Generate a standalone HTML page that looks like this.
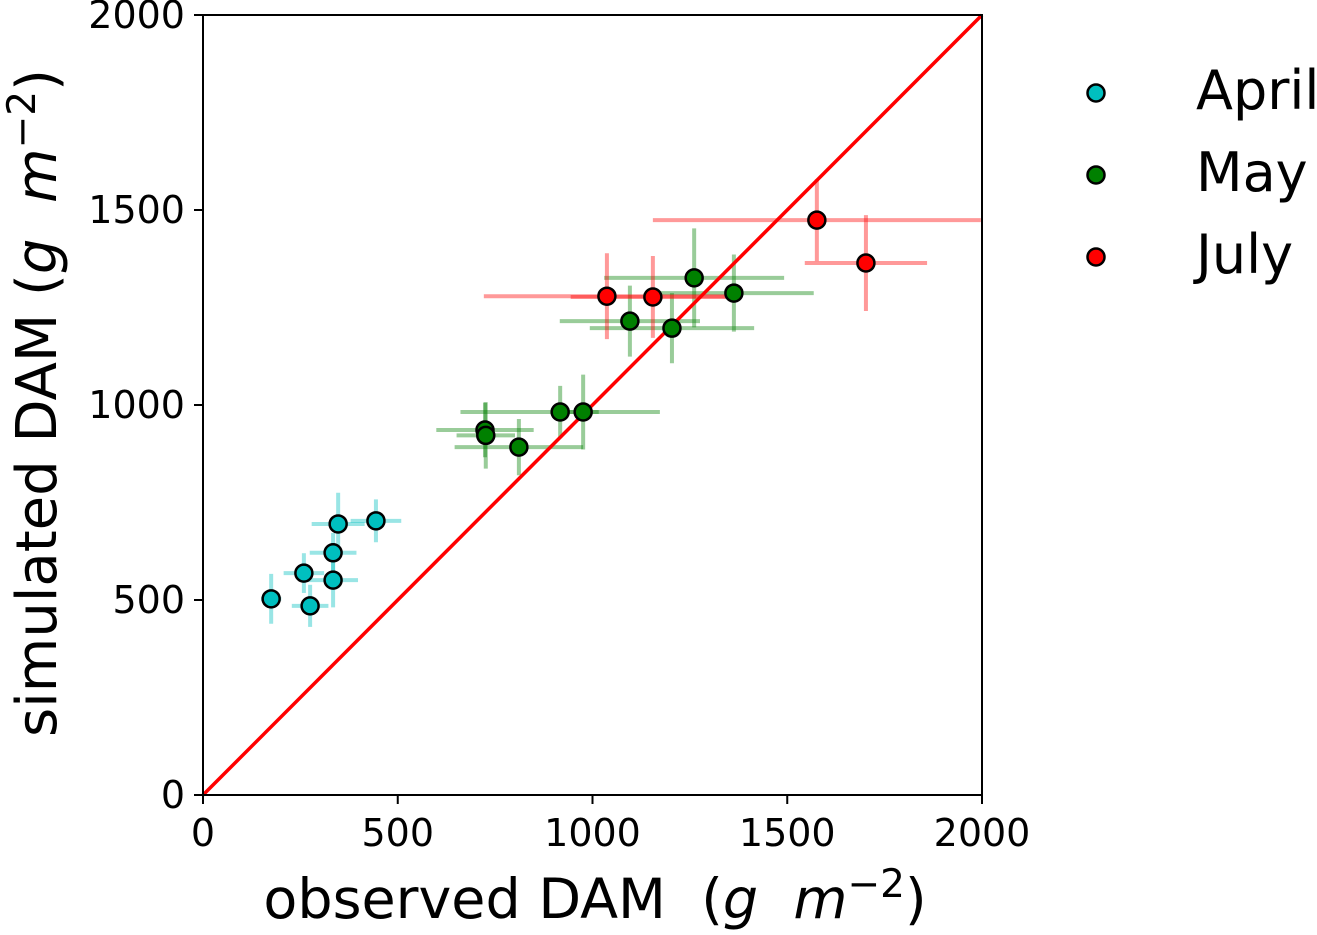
<!DOCTYPE html>
<html><head><meta charset="utf-8"><style>
body{margin:0;background:#fff;}
svg text{font-family:"DejaVu Sans","Liberation Sans",sans-serif;fill:#000;white-space:pre;}
</style></head><body>
<svg id="chart" width="1317" height="930" xmlns="http://www.w3.org/2000/svg"></svg>
<script>
const groups = ["April","May","July"];
const colors = ["#00bfbf","#008000","#ff0000"];
const aprX = [175,275,259,334,334,347,444];
const aprY = [503,485,569,621,551,695,703];
const aprXe = [26,47,52,60,64,68,65];
const aprYe = [64,54,51,51,70,80,55];
const mayX = [724,726,811,917,976,1261,1363,1096,1204];
const mayY = [936,922,892,982,982,1326,1287,1215,1197];
const mayXe = [125,75,165,256,40,231,205,180,211];
const mayYe = [70,85,72,67,96,127,99,91,90];
const julX = [1037,1155,1576,1702];
const julY = [1279,1277,1474,1364];
const julXe = [316,211,421,157];
const julYe = [110,105,105,123];
const ticks = [0,500,1000,1500,2000];

const svg=document.getElementById('chart');
const NS='http://www.w3.org/2000/svg';
const X0=203,X1=982,Y0=795,Y1=15;
const sx=v=>X0+(v/2000)*(X1-X0);
const sy=v=>Y0-(v/2000)*(Y0-Y1);
function mk(tag,attrs,parent){const e=document.createElementNS(NS,tag);for(const k in attrs)e.setAttribute(k,attrs[k]);(parent||svg).appendChild(e);return e;}

const plot=mk('g',{});


const series=[[aprX,aprY,aprXe,aprYe],[mayX,mayY,mayXe,mayYe],[julX,julY,julXe,julYe]];
series.forEach((s,gi)=>{
  const g=mk('g',{},plot);
  
  
  s[0].forEach((x,i)=>{
    const y=s[1][i];
    const h=mk('line',{x1:sx(x-s[2][i]),x2:sx(x+s[2][i]),y1:sy(y),y2:sy(y),stroke:colors[gi],'stroke-width':4,'stroke-opacity':0.4},g);
    
    
    const v=mk('line',{x1:sx(x),x2:sx(x),y1:sy(y-s[3][i]),y2:sy(y+s[3][i]),stroke:colors[gi],'stroke-width':4,'stroke-opacity':0.4},g);
    
    
  });
});
const ref=mk('line',{x1:sx(0),y1:sy(0),x2:sx(2000),y2:sy(2000),stroke:'#ff0000','stroke-width':3.5});


series.forEach((s,gi)=>{
  s[0].forEach((x,i)=>{
    const c=mk('circle',{cx:sx(x),cy:sy(s[1][i]),r:8.5,fill:colors[gi],stroke:'#000','stroke-width':2.5});
    
    
  });
});
const frame=mk('rect',{x:X0,y:Y1,width:X1-X0,height:Y0-Y1,fill:'none',stroke:'#000','stroke-width':2});


ticks.forEach(t=>{
  mk('line',{x1:sx(t),x2:sx(t),y1:Y0,y2:Y0+9,stroke:'#000','stroke-width':2});
  const tx=mk('text',{x:sx(t),y:846,'font-size':38,'text-anchor':'middle'});tx.textContent=t;
  
  
  mk('line',{x1:X0-9,x2:X0,y1:sy(t),y2:sy(t),stroke:'#000','stroke-width':2});
  const ty=mk('text',{x:185,y:sy(t)+13,'font-size':38,'text-anchor':'end'});ty.textContent=t;
  
  
});
const xl=mk('text',{x:595,y:918,'font-size':55.5,'text-anchor':'middle'});
xl.innerHTML='observed DAM  (<tspan font-style="italic">g  m</tspan><tspan dy="-21" font-size="39">−2</tspan><tspan dy="21">)</tspan>';


const yl=mk('text',{x:0,y:0,'font-size':56,'text-anchor':'middle',transform:'translate(56,403) rotate(-90)'});
yl.innerHTML='simulated DAM (<tspan font-style="italic">g  m</tspan><tspan dy="-21" font-size="39">−2</tspan><tspan dy="21">)</tspan>';


groups.forEach((g,i)=>{
  const y=93+i*82;
  const c=mk('circle',{cx:1096,cy:y,r:8.5,fill:colors[i],stroke:'#000','stroke-width':2.5});
  
  
  const t=mk('text',{x:1196,y:y+16,'font-size':54});t.textContent=g;
  
  
});
</script>
</body></html>
